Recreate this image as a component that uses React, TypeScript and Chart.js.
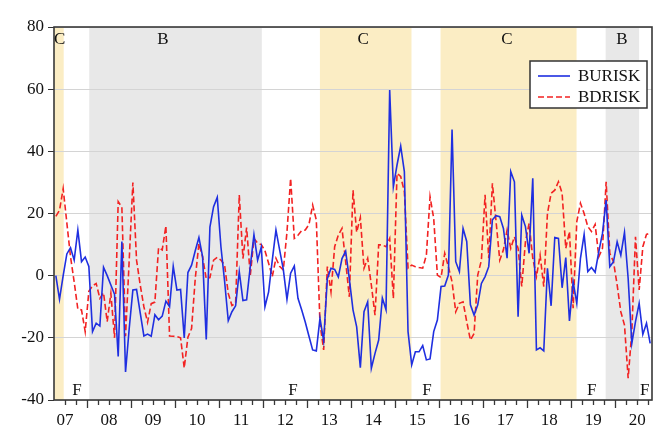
import React, { useEffect, useRef } from 'react';
import { Chart, registerables } from 'chart.js';

Chart.register(...registerables);

// Monthly observations, first one is April 2007
const START_YEAR = 2007;
const START_MONTH = 4;
const AXIS_MIN = 2007.25;
const AXIS_MAX = 2020 + 10 / 12;

const burisk = [
  0, -7.6, 0, 7, 9, 5, 14.7, 4.5, 6, 3,
  -18, -15.3, -16.2, 2.7, 0, -3, -6, -26, 11, -31,
  -17, -4.6, -4.4, -12, -19.4, -18.8, -19.5, -12.6, -14.2, -13,
  -8.2, -10, 3, -4.6, -4.4, -20, 1, 3.4, 8, 12.3,
  6.1, -20.5, 15.6, 22.2, 25.2, 9.3, -1.8, -14.5, -11.6, -9.7,
  1.3, -8, -7.8, 3, 13.2, 5, 9.2, -10, -5.2, 5,
  14.7, 8.3, 2, -7.6, 0.8, 3.1, -7.3, -11, -15, -19.5,
  -23.9, -24.2, -13.7, -21, -1, 2.4, 2, -0.4, 5.5, 7.9,
  -1, -11, -16.5, -29.6, -11.6, -8.4, -29.8, -25, -20.7, -7.2,
  -11, 59.7, 28.6, 35.6, 41.7, 33.5, -18, -28.7, -24.5, -24.5,
  -22.5, -27.1, -26.8, -18, -14.3, -3.5, -3.3, 0.2, 47, 4.5,
  1.3, 15.2, 11, -9.4, -12.7, -9.4, -2.5, -0.3, 2.9, 18,
  19.3, 19, 15.2, 5.6, 33.5, 30.2, -13.2, 19.5, 15.8, 7.2,
  31.3, -23.9, -23.2, -24.2, 2.4, -9.7, 12.3, 12, -3.9, 5.8,
  -14.6, -2, -8.9, 5.6, 13.3, 1.3, 2.6, 1.1, 7.7, 13.6,
  24.3, 2.9, 4.5, 10.9, 6.6, 13.9, -0.9, -21.8, -14.8, -8.9,
  -18.9, -15.3, -21.8,
];

const bdrisk = [
  19.1, 21, 28, 17, 6.1, -2, -10.8, -11, -18, -5,
  -3.3, -2.5, -7.3, -5.5, -14.8, -5.7, -20, 23.8, 22, -19.5,
  5, 30, 5, -3, -10, -15, -9, -8.5, 9, 8.3,
  16, -19.4, -19.5, -19.6, -20, -29.7, -19.8, -17, -1, 10.4,
  6, -1, -0.6, 5, 5.9, 5, 3.4, -5.7, -9.6, -8.9,
  26, 5.5, 15.5, 0, 12, 10.5, 10, 8, 4, -0.3,
  5.6, 3, 1.8, 14, 31.3, 12, 13, 14.5, 14.7, 16.5,
  22.7, 17.9, -15.3, -23.9, 2.9, -5.2, 9.3, 13.1, 15.2, 4.5,
  -6.8, 27.5, 14, 18.7, 2.4, 5.6, -3, -12.7, 9.9, 9.9,
  9.3, 12, -7.3, 32.9, 31.9, 27, 2.4, 3.4, 2.9, 2.6,
  2.4, 6.6, 25.4, 18.4, 0.2, -0.6, 7.2, 2.9, -2, -11.6,
  -8.9, -8.4, -14.8, -20.7, -18.6, 0.2, 5, 26, 5.6, 29.7,
  17.4, 5, 8.3, 14.7, 8.8, 12.5, 8.8, -3.5, 10.9, 16.8,
  5.6, -0.3, 6.6, -3.5, 20, 26.5, 27.5, 30.2, 26.5, 8.8,
  14.2, -10.5, 17.4, 23.3, 20, 15.8, 14.2, 16.5, 6.1, 8.8,
  30.2, 7.2, 4.5, -3, -11.6, -15.9, -33, -18, 12.5, -4.6,
  9.3, 13.3, 13.6,
];

const tickYears = [2007, 2008, 2009, 2010, 2011, 2012, 2013, 2014, 2015, 2016, 2017, 2018, 2019, 2020];
const tickLabels = ['07', '08', '09', '10', '11', '12', '13', '14', '15', '16', '17', '18', '19', '20'];

// Regime shading (in years) and their labels
const regimeStart = [2007.25, 2008.05, 2013.29, 2016.03, 2019.78];
const regimeEnd = [2007.47, 2011.97, 2015.37, 2019.12, 2020.54];
const regimeType = ['C', 'B', 'C', 'C', 'B'];
const regimeLabelAt = [2007.377, 2009.725, 2014.27, 2017.54, 2020.15];
const fLabelAt = [2007.772, 2012.677, 2015.72, 2019.466, 2020.67];

const BLUE = '#1f2fe0';
const RED = '#f22222';
const SHADE = { C: '#fbedc4', B: '#e8e8e8' } as Record<string, string>;
const FONT = "'Liberation Serif', 'Times New Roman', serif";

export default function App() {
  const ref = useRef<HTMLCanvasElement>(null);

  useEffect(() => {
    const toX = (i: number) => START_YEAR + (START_MONTH - 1 + i + 0.5) / 12;

    const shadePlugin = {
      id: 'shade',
      beforeDraw(chart: any) {
        const { ctx, chartArea: ca, scales } = chart;
        const xs = scales.x;
        ctx.save();
        ctx.fillStyle = '#ffffff';
        ctx.fillRect(0, 0, chart.width, chart.height);
        regimeStart.forEach((s, k) => {
          const x0 = xs.getPixelForValue(s);
          const x1 = xs.getPixelForValue(regimeEnd[k]);
          ctx.fillStyle = SHADE[regimeType[k]];
          ctx.fillRect(x0, ca.top, x1 - x0, ca.bottom - ca.top);
        });
        ctx.restore();
      },
    };

    const overlayPlugin = {
      id: 'overlay',
      afterDraw(chart: any) {
        const { ctx, chartArea: ca, scales } = chart;
        const xs = scales.x;
        ctx.save();
        // plot frame
        ctx.strokeStyle = '#383838';
        ctx.lineWidth = 1.6;
        ctx.strokeRect(ca.left, ca.top, ca.right - ca.left, ca.bottom - ca.top);
        // x ticks (quarterly minor, yearly major)
        ctx.lineWidth = 1.3;
        ctx.beginPath();
        tickYears.forEach((y) => {
          [0, 0.25, 0.5, 0.75].forEach((q) => {
            const v = y + q;
            if (v <= AXIS_MIN + 1e-6 || v > AXIS_MAX + 1e-6) return;
            const px = Math.round(xs.getPixelForValue(v)) + 0.5;
            ctx.moveTo(px, ca.bottom);
            ctx.lineTo(px, ca.bottom + (q === 0 ? 8 : 5));
          });
        });
        ctx.stroke();
        // regime labels
        ctx.fillStyle = '#111';
        ctx.font = `17px ${FONT}`;
        ctx.textAlign = 'center';
        ctx.textBaseline = 'middle';
        regimeLabelAt.forEach((v, k) => {
          ctx.fillText(regimeType[k], xs.getPixelForValue(v), ca.top + 13);
        });
        fLabelAt.forEach((v) => {
          ctx.fillText('F', xs.getPixelForValue(v), ca.bottom - 9);
        });
        // legend
        const lw = 117, lh = 47;
        const lx = ca.right - 122, ly = ca.top + 34;
        ctx.fillStyle = '#ffffff';
        ctx.fillRect(lx, ly, lw, lh);
        ctx.strokeStyle = '#333';
        ctx.lineWidth = 1.5;
        ctx.strokeRect(lx, ly, lw, lh);
        const rows = [
          { label: 'BURISK', color: BLUE, dash: [] as number[] },
          { label: 'BDRISK', color: RED, dash: [6, 3] },
        ];
        rows.forEach((r, k) => {
          const yy = ly + 15 + k * 21;
          ctx.strokeStyle = r.color;
          ctx.lineWidth = 1.6;
          ctx.setLineDash(r.dash);
          ctx.beginPath();
          ctx.moveTo(lx + 8, yy);
          ctx.lineTo(lx + 40, yy);
          ctx.stroke();
          ctx.setLineDash([]);
          ctx.fillStyle = '#111';
          ctx.textAlign = 'left';
          ctx.fillText(r.label, lx + 48, yy + 1);
        });
        ctx.restore();
      },
    };

    const chart = new Chart(ref.current as HTMLCanvasElement, {
      type: 'line',
      data: {
        datasets: [
          {
            label: 'BURISK',
            data: burisk.map((v, i) => ({ x: toX(i), y: v })),
            borderColor: BLUE,
            borderWidth: 1.6,
            pointRadius: 0,
            tension: 0,
            fill: false,
          },
          {
            label: 'BDRISK',
            data: bdrisk.map((v, i) => ({ x: toX(i), y: v })),
            borderColor: RED,
            borderWidth: 1.6,
            borderDash: [6, 3],
            pointRadius: 0,
            tension: 0,
            fill: false,
          },
        ],
      },
      options: {
        animation: false,
        responsive: false,
        maintainAspectRatio: false,
        layout: { padding: { top: 27, right: 12, left: 0, bottom: 0 } },
        plugins: { legend: { display: false }, tooltip: { enabled: false } },
        scales: {
          x: {
            type: 'linear',
            min: AXIS_MIN,
            max: AXIS_MAX,
            grid: { display: false, drawTicks: false },
            border: { display: false },
            afterBuildTicks: (s: any) => {
              s.ticks = tickYears.map((y) => ({ value: y + 0.5 }));
            },
            afterFit: (s: any) => {
              s.height = 31;
            },
            ticks: {
              autoSkip: false,
              maxRotation: 0,
              minRotation: 0,
              padding: 10,
              color: '#111',
              font: { family: FONT, size: 17 },
              callback: (v: any) => {
                const idx = tickYears.indexOf(Math.round(Number(v) - 0.5));
                return idx >= 0 ? tickLabels[idx] : '';
              },
            },
          },
          y: {
            min: -40,
            max: 80,
            border: { display: false },
            grid: { color: '#d4d4d4', tickColor: '#333', tickLength: 6, lineWidth: 1 },
            afterFit: (s: any) => {
              s.width = 54;
            },
            ticks: {
              stepSize: 20,
              padding: 4,
              color: '#111',
              font: { family: FONT, size: 17 },
            },
          },
        },
      },
      plugins: [shadePlugin, overlayPlugin],
    });
    return () => chart.destroy();
  }, []);

  return (
    <div style={{ position: 'fixed', left: 0, top: 0, width: 664, height: 431, background: '#fff', overflow: 'hidden' }}>
      <div
        style={{
          position: 'absolute',
          left: 12,
          top: 5,
          width: 646,
          height: 440,
          border: '2px solid #a9a9a9',
        }}
      />
      <canvas ref={ref} width={664} height={431} style={{ position: 'absolute', left: 0, top: 0, width: 664, height: 431 }} />
    </div>
  );
}
